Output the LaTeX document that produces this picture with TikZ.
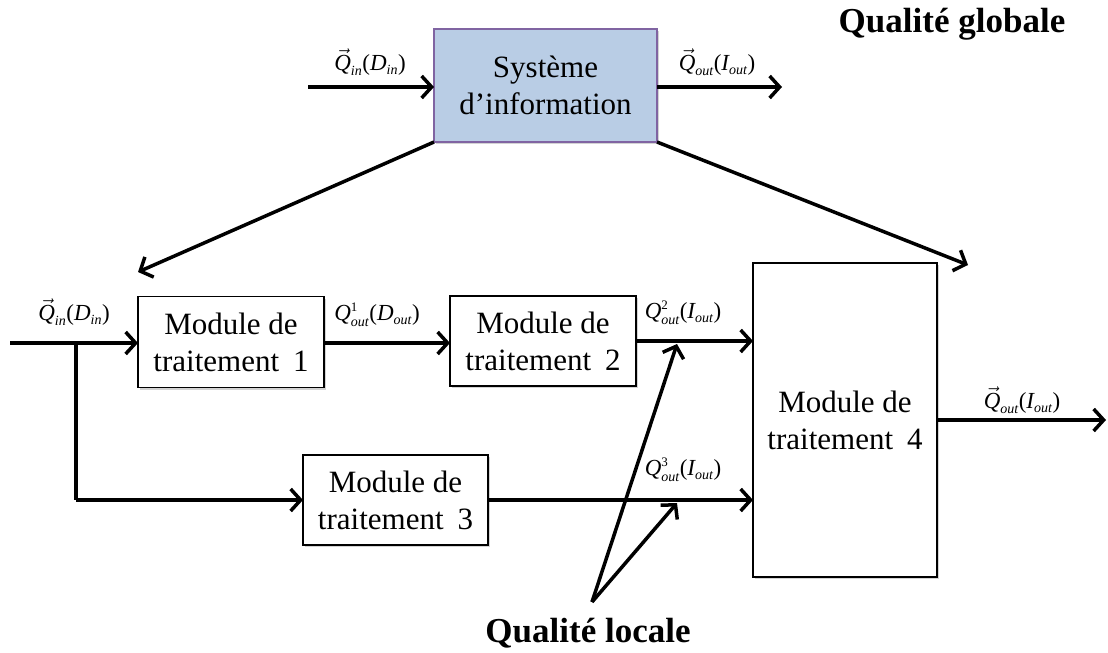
\documentclass[tikz,border=0pt]{standalone}
\usepackage{fontspec}
\setmainfont{Liberation Serif}
\usetikzlibrary{arrows.meta,shadows}
\definecolor{sysfill}{HTML}{B9CDE5}
\definecolor{sysdraw}{HTML}{8064A2}
\newcommand{\ti}[1]{\mbox{\itshape #1}}
\newcommand{\ts}[1]{\mbox{\fontsize{14}{14}\selectfont\itshape #1}}
\newcommand{\tu}[1]{\mbox{\fontsize{13}{13}\selectfont #1}}
\newcommand{\lp}{\mbox{(}}
\newcommand{\rp}{\mbox{)}}
\begin{document}
\begin{tikzpicture}[x=1pt,y=-1pt,
  box/.style={draw=black,line width=1.8pt,fill=white,align=center,inner sep=0pt,outer sep=0pt,
    font=\fontsize{31}{37}\selectfont,drop shadow={shadow xshift=2pt,shadow yshift=-2pt,opacity=0.35}},
  arr/.style={line width=3.5pt,-{Straight Barb[length=10pt,width=22pt,line width=3.5pt]}},
  lab/.style={font=\fontsize{23}{26}\selectfont,inner sep=0pt},
  qual/.style={font=\bfseries\fontsize{35}{40}\selectfont,inner sep=0pt}]
\useasboundingbox (0,0) rectangle (1108,653);
% nodes
\node[box,fill=sysfill,draw=sysdraw,minimum width=223pt,minimum height=113pt] (sys) at (545.5,85.5) {Système\\d’information};
\node[box,minimum width=186pt,minimum height=91pt] (m1) at (231,342) {Module de\\traitement\hspace{0.45em}1};
\node[box,minimum width=186pt,minimum height=90pt] (m2) at (543,341) {Module de\\traitement\hspace{0.45em}2};
\node[box,minimum width=185pt,minimum height=90pt] (m3) at (395.5,500) {Module de\\traitement\hspace{0.45em}3};
\node[box,minimum width=184pt,minimum height=314pt] (m4) at (845,420) {Module de\\traitement\hspace{0.45em}4};
% coordinates
\coordinate (sin) at (308,87);
\coordinate (sout) at (782,87);
\coordinate (min) at (10,343);
\coordinate (br) at (76,343);
\coordinate (brd) at (76,500);
\coordinate (dl) at (138,272);
\coordinate (dr) at (968,265);
\coordinate (m4o) at (1106,420);
\coordinate (apex) at (592,602);
\coordinate (t2) at (677,344);
\coordinate (t3) at (677,503);
% connectors
\draw[arr] (sin) -- (sin -| sys.west);
\draw[arr] (sys.east |- sout) -- (sout);
\draw[arr] (sys.south west) -- (dl);
\draw[arr] (sys.south east) -- (dr);
\draw[arr] (min) -- (min -| m1.west);
\draw[line width=3.5pt] (br) -- (brd);
\draw[arr] (brd) -- (brd -| m3.west);
\draw[arr] (m1.east |- min) -- (min -| m2.west);
\draw[arr] (m2.east) -- (m2.east -| m4.west);
\draw[arr] (m3.east) -- (m3.east -| m4.west);
\draw[arr] (m4.east) -- (m4o);
\draw[arr] (apex) -- (t2);
\draw[arr] (apex) -- (t3);
% labels
\node[lab] (l1) at (370,62) {$\vec{\ti{Q}}_{\ts{in}}\lp\ti{D}_{\ts{in}}\rp$};
\node[lab] (l2) at (717,62) {$\vec{\ti{Q}}_{\ts{out}}\lp\ti{I}_{\ts{out}}\rp$};
\node[lab] (l3) at (74,312) {$\vec{\ti{Q}}_{\ts{in}}\lp\ti{D}_{\ts{in}}\rp$};
\node[lab] (l4) at (377,315) {$\ti{Q}^{\tu{1}}_{\ts{out}}\lp\ti{D}_{\ts{out}}\rp$};
\node[lab] (l5) at (683,313) {$\ti{Q}^{\tu{2}}_{\ts{out}}\lp\ti{I}_{\ts{out}}\rp$};
\node[lab] (l6) at (683,470) {$\ti{Q}^{\tu{3}}_{\ts{out}}\lp\ti{I}_{\ts{out}}\rp$};
\node[lab] (l7) at (1022,400) {$\vec{\ti{Q}}_{\ts{out}}\lp\ti{I}_{\ts{out}}\rp$};
\node[qual] (qg) at (952,24) {Qualité globale};
\node[qual] (ql) at (588,633) {Qualité locale};
\end{tikzpicture}
\end{document}
